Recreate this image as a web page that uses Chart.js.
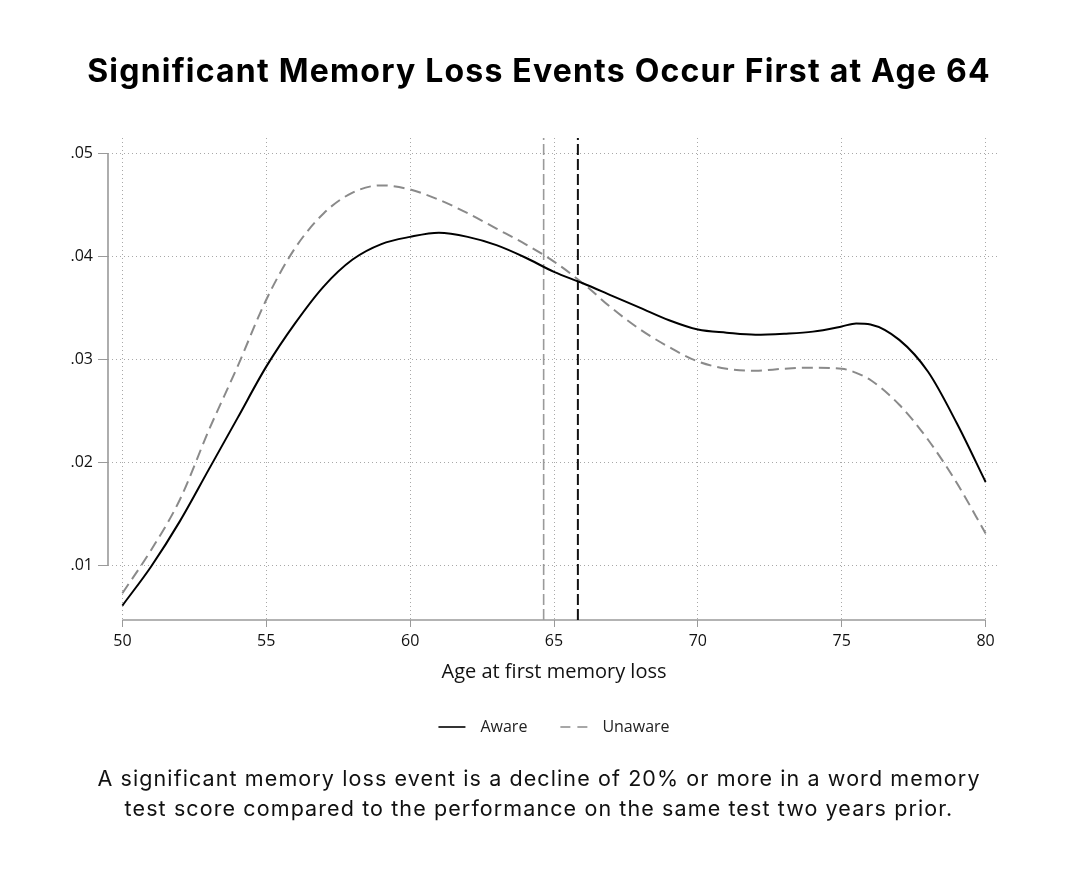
<!DOCTYPE html>
<html>
<head>
<meta charset="utf-8">
<script src="https://cdn.jsdelivr.net/npm/chart.js@4.4.1/dist/chart.umd.min.js"></script>
<style>
  html, body { margin: 0; padding: 0; background: #fff; }
  #page { position: relative; width: 1078px; height: 882px; overflow: hidden; }
  #chartBox { position: absolute; left: 0; top: 0; width: 1078px; height: 882px; }
  .title {
    position: absolute; left: 0; width: 1078px; top: 51px; text-align: center;
    font-family: Inter, "Noto Sans", sans-serif; font-weight: 700; font-size: 32px; line-height: 40px;
    letter-spacing: 1.2px; color: #000;
  }
  .note {
    position: absolute; left: 0; width: 1078px; top: 763px; text-align: center;
    font-family: Inter, "Noto Sans", sans-serif; font-size: 21.5px; line-height: 30px;
    letter-spacing: 1.1px; color: #111;
  }
</style>
</head>
<body>
<div id="page">
  <div id="chartBox"><canvas id="chart"></canvas></div>
  <div class="title">Significant Memory Loss Events Occur First at Age 64</div>
  <div class="note">A significant memory loss event is a decline of 20% or more in a word memory<br>test score compared to the performance on the same test two years prior.</div>
</div>
<script>
// values
const ages = [50, 51, 52, 53, 54, 55, 56, 57, 58, 59, 60, 61, 62, 63, 64, 65, 66, 67, 68, 69, 70,
              71, 72, 73, 74, 75, 75.5, 76, 77, 78, 79, 80];
const aware = [0.0061, 0.0099, 0.0143, 0.0193, 0.0243, 0.0293, 0.0335, 0.0371, 0.0397, 0.0412, 0.0419,
               0.0423, 0.0419, 0.0411, 0.0399, 0.0385, 0.0374, 0.0362, 0.0350, 0.0338, 0.0329,
               0.0326, 0.0324, 0.0325, 0.0327, 0.0332, 0.0335, 0.0334, 0.0319, 0.0288, 0.0238, 0.0181];
const unaware = [0.0073, 0.0115, 0.0164, 0.0231, 0.0293, 0.0358, 0.0408, 0.0442, 0.0462, 0.0469, 0.0465,
                 0.0455, 0.0442, 0.0427, 0.0412, 0.0395, 0.0374, 0.0350, 0.0329, 0.0312, 0.0298,
                 0.0291, 0.0289, 0.0291, 0.0292, 0.0291, 0.0287, 0.0280, 0.0256, 0.0222, 0.0180, 0.0131];
const meanUnaware = 64.64;
const meanAware = 65.83;
const xTicks = [50, 55, 60, 65, 70, 75, 80];
const yTicks = [0.01, 0.02, 0.03, 0.04, 0.05];
const xMin = 49.5, xMax = 80.5;
const yMin = 0.0047, yMax = 0.0515;

const toPoints = (xs, ys) => xs.map((x, i) => ({x: x, y: ys[i]}));
const vLine = (x) => [{x: x, y: yMin}, {x: x, y: yMax}];

const labelFont = '"Open Sans", sans-serif';

// Stata style axis lines: only from first to last tick
const axisLines = {
  id: 'axisLines',
  beforeDatasetsDraw(chart) {
    const {ctx, scales: {x, y}, chartArea} = chart;
    ctx.save();
    ctx.strokeStyle = '#9a9a9a';
    ctx.lineWidth = 1.6;
    ctx.beginPath();
    ctx.moveTo(x.getPixelForValue(xTicks[0]), chartArea.bottom);
    ctx.lineTo(x.getPixelForValue(xTicks[xTicks.length - 1]), chartArea.bottom);
    ctx.moveTo(chartArea.left, y.getPixelForValue(yTicks[0]));
    ctx.lineTo(chartArea.left, y.getPixelForValue(yTicks[yTicks.length - 1]));
    ctx.stroke();
    ctx.restore();
  }
};

// legend with real dashed keys (the built-in one closes the path and hides the dashes)
const keyLegend = {
  id: 'keyLegend',
  afterDraw(chart) {
    const {ctx, chartArea} = chart;
    const items = chart.data.datasets.slice(0, 2);
    const keyW = 27, keyGap = 15, itemGap = 33;
    ctx.save();
    ctx.font = '16px ' + labelFont;
    const widths = items.map(d => keyW + keyGap + ctx.measureText(d.label).width);
    const total = widths.reduce((a, b) => a + b, 0) + itemGap * (items.length - 1);
    let x = (chartArea.left + chartArea.right) / 2 - total / 2;
    const y = chartArea.bottom + 107;
    items.forEach((d, i) => {
      ctx.strokeStyle = d.borderColor;
      ctx.lineWidth = 1.6;
      ctx.setLineDash(d.borderDash ? [10, 7] : []);
      ctx.beginPath();
      ctx.moveTo(x, y);
      ctx.lineTo(x + keyW, y);
      ctx.stroke();
      ctx.setLineDash([]);
      ctx.fillStyle = '#222';
      ctx.textBaseline = 'middle';
      ctx.fillText(d.label, x + keyW + keyGap, y);
      x += widths[i] + itemGap;
    });
    ctx.restore();
  }
};

const tickFont = {family: labelFont, size: 16};

new Chart(document.getElementById('chart'), {
  type: 'line',
  data: {
    datasets: [
      {
        label: 'Aware',
        data: toPoints(ages, aware),
        borderColor: '#000',
        borderWidth: 2,
        pointRadius: 0,
        cubicInterpolationMode: 'monotone'
      },
      {
        label: 'Unaware',
        data: toPoints(ages, unaware),
        borderColor: '#8a8a8a',
        borderWidth: 2,
        borderDash: [11, 6],
        pointRadius: 0,
        cubicInterpolationMode: 'monotone'
      },
      {
        label: 'mean unaware',
        data: vLine(meanUnaware),
        borderColor: '#9a9a9a',
        borderWidth: 1.6,
        borderDash: [11, 4],
        pointRadius: 0
      },
      {
        label: 'mean aware',
        data: vLine(meanAware),
        borderColor: '#111',
        borderWidth: 2,
        borderDash: [11, 4],
        pointRadius: 0
      }
    ]
  },
  options: {
    responsive: true,
    maintainAspectRatio: false,
    animation: false,
    layout: {padding: {top: 138, right: 78, bottom: 172, left: 0}},
    plugins: {
      tooltip: {enabled: false},
      legend: {display: false}
    },
    scales: {
      x: {
        type: 'linear',
        min: xMin,
        max: xMax,
        afterBuildTicks: (s) => { s.ticks = xTicks.map(v => ({value: v})); },
        afterFit: (s) => { s.height = 90; },
        ticks: {color: '#111', font: tickFont, padding: 5, maxRotation: 0},
        grid: {color: '#a8a8a8', tickColor: '#9a9a9a', tickLength: 7, lineWidth: 1},
        border: {display: false, dash: [1, 3]},
        title: {
          display: true,
          text: 'Age at first memory loss',
          color: '#111',
          font: {family: labelFont, size: 20},
          padding: {top: 0, bottom: 26}
        }
      },
      y: {
        type: 'linear',
        min: yMin,
        max: yMax,
        afterBuildTicks: (s) => { s.ticks = yTicks.map(v => ({value: v})); },
        afterFit: (s) => { s.width = 108; },
        ticks: {
          color: '#111',
          font: tickFont,
          padding: 5,
          callback: (v) => v.toFixed(2).replace(/^0/, '')
        },
        grid: {color: '#a8a8a8', tickColor: '#9a9a9a', tickLength: 10, lineWidth: 1},
        border: {display: false, dash: [1, 3]}
      }
    }
  },
  plugins: [axisLines, keyLegend]
});
</script>
</body>
</html>
